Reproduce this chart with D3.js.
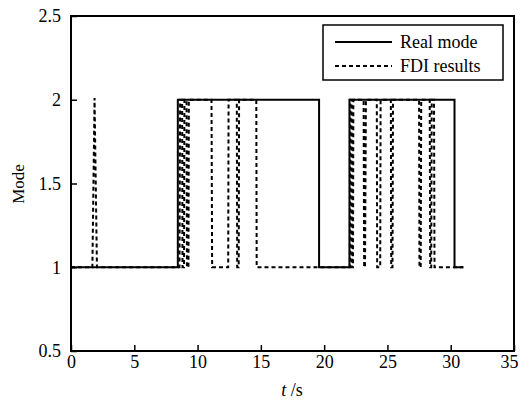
<!DOCTYPE html>
<html>
<head>
<meta charset="utf-8">
<script src="https://cdn.jsdelivr.net/npm/d3@7"></script>
<style>
  html, body { margin: 0; padding: 0; background: #fff; }
  svg { display: block; }
  text { font-family: "Liberation Serif", "Times New Roman", serif; fill: #000; }
</style>
</head>
<body>
<svg id="chart" width="521" height="401"></svg>
<script>
// ---- data ----
const xTicks = [0, 5, 10, 15, 20, 25, 30, 35];
const yTicks = [0.5, 1, 1.5, 2, 2.5];
const yTickLabels = ["0.5", "1", "1.5", "2", "2.5"];

// Real mode (step signal as vertices)
const realT    = [0, 8.44, 8.44, 19.6, 19.6, 22.0, 22.0, 30.3, 30.3, 31.0];
const realMode = [1, 1,    2,    2,    1,    1,    2,    2,    1,    1];

// FDI results (vertices)
const fdiT    = [0, 1.69, 1.86, 2.05,
                 8.57, 8.62, 8.78, 8.81, 8.93, 8.96, 9.13, 9.16, 9.28, 9.31,
                 11.10, 11.15, 11.36, 12.27, 12.42, 12.45, 13.10, 13.13, 13.25, 13.28, 14.64, 14.67,
                 22.03, 22.06, 22.16, 22.18, 22.28, 22.31, 23.12, 23.16, 23.23, 23.30, 23.33,
                 24.16, 24.19, 24.43, 24.46, 25.27, 25.30, 25.40, 25.44, 27.50, 27.53, 27.63, 27.67,
                 28.34, 28.38, 28.46, 28.50, 28.68, 28.72, 30.99];
const fdiMode = [1, 1,    2.01, 1,
                 1,    2,    2,    1,    1,    2,    2,    1,    1,    2,
                 2,     1,     1,     1,     1,     2,     2,     1,     1,     2,     2,     1,
                 1,     2,     2,     1,     1,     2,     2,     1,     1,     2,     2,
                 2,     1,     1,     2,     2,     1,     1,     2,     2,     1,     1,     2,
                 2,     1,     1,     2,     2,     1,     1];

const legendLabels = ["Real mode", "FDI results"];

// ---- layout ----
const svg = d3.select("#chart");
const x = d3.scaleLinear().domain([0, 35]).range([71, 514]);
const y = d3.scaleLinear().domain([0.5, 2.5]).range([351, 16]);

const line = d3.line().x(d => x(d[0])).y(d => y(d[1]));

// FDI dashed
svg.append("path")
  .datum(fdiT.map((t, i) => [t, fdiMode[i]]))
  .attr("d", line)
  .attr("fill", "none")
  .attr("stroke", "#000")
  .attr("stroke-width", 2)
  .attr("stroke-dasharray", "4,3");

// Real mode solid
svg.append("path")
  .datum(realT.map((t, i) => [t, realMode[i]]))
  .attr("d", line)
  .attr("fill", "none")
  .attr("stroke", "#000")
  .attr("stroke-width", 2);

// Axes (inward ticks)
const xAxis = d3.axisBottom(x).tickValues(xTicks).tickSize(-6).tickFormat(d3.format("d"));
const gx = svg.append("g").attr("transform", "translate(0,351)").call(xAxis);
gx.select(".domain").remove();
gx.selectAll("line").attr("stroke", "#000").attr("stroke-width", 1.5);
gx.selectAll("text")
  .attr("font-size", 18).attr("font-family", null).attr("dy", null).attr("y", 17)
  .attr("x", d => d === 35 ? -5 : 0);

const yAxis = d3.axisLeft(y).tickValues(yTicks).tickSize(-6).tickPadding(10).tickFormat((d, i) => yTickLabels[i]);
const gy = svg.append("g").attr("transform", "translate(71,0)").call(yAxis);
gy.select(".domain").remove();
gy.selectAll("line").attr("stroke", "#000").attr("stroke-width", 1.5);
gy.selectAll("text").attr("font-size", 18).attr("font-family", null);

// Frame
svg.append("rect")
  .attr("x", 71).attr("y", 16).attr("width", 443).attr("height", 335)
  .attr("fill", "none").attr("stroke", "#000").attr("stroke-width", 2);

// Axis labels
svg.append("text")
  .attr("transform", "translate(24,184) rotate(-90)")
  .attr("text-anchor", "middle")
  .attr("font-size", 17)
  .text("Mode");

const xl = svg.append("text")
  .attr("x", 292).attr("y", 396)
  .attr("text-anchor", "middle")
  .attr("font-size", 18);
xl.append("tspan").attr("font-style", "italic").text("t");
xl.append("tspan").text(" /s");

// Legend
const lg = svg.append("g");
lg.append("rect")
  .attr("x", 323).attr("y", 25).attr("width", 180).attr("height", 55)
  .attr("fill", "#fff").attr("stroke", "#000").attr("stroke-width", 1.5);
const ly = [42, 66];
legendLabels.forEach((lab, i) => {
  lg.append("line")
    .attr("x1", 335).attr("x2", 392).attr("y1", ly[i]).attr("y2", ly[i])
    .attr("stroke", "#000").attr("stroke-width", 2)
    .attr("stroke-dasharray", i === 1 ? "4,3" : null);
  lg.append("text")
    .attr("x", 400).attr("y", ly[i] + 6)
    .attr("font-size", 18)
    .text(lab);
});
</script>
</body>
</html>
